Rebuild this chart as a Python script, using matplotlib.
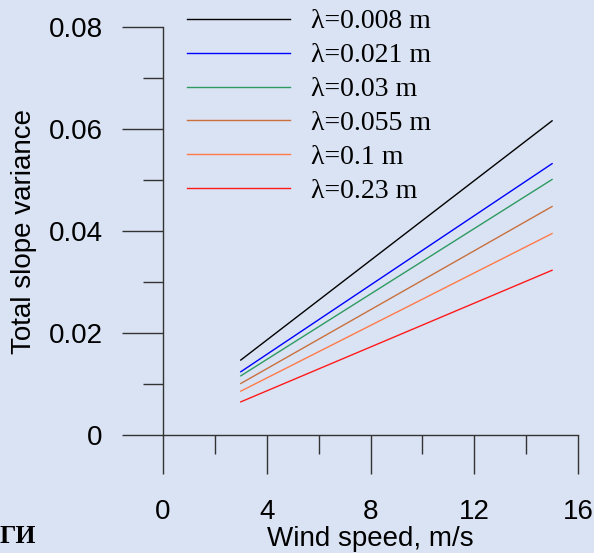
import matplotlib.pyplot as plt
import numpy as np

# wind speed end points and slope variance at those speeds
wind = [3, 15]
labels = ["λ=0.008 m", "λ=0.021 m", "λ=0.03 m", "λ=0.055 m", "λ=0.1 m", "λ=0.23 m"]
var_start = [0.0147, 0.0124, 0.0116, 0.0101, 0.0086, 0.0065]
var_end = [0.0616, 0.0532, 0.0501, 0.0448, 0.0395, 0.0323]
colors = ["#000000", "#0000ff", "#2e9a62", "#c8703e", "#ff7a4a", "#ff1a1a"]

bg = "#dae3f3"
fig = plt.figure(figsize=(5.94, 5.53), dpi=100, facecolor=bg)
ax = fig.add_axes([163 / 594, 1 - 435 / 553, 415 / 594, 408 / 553], facecolor=bg)

for lab, y0, y1, c in zip(labels, var_start, var_end, colors):
    ax.plot(wind, [y0, y1], color=c, lw=1.0, label=lab)

ax.set_xlim(0, 16)
ax.set_ylim(0, 0.08)
for s in ["top", "right"]:
    ax.spines[s].set_visible(False)
for s in ["left", "bottom"]:
    ax.spines[s].set_color("#333333")
    ax.spines[s].set_linewidth(1.0)

ax.set_xticks([0, 4, 8, 12, 16])
ax.set_xticks([2, 6, 10, 14], minor=True)
ax.set_yticks([0, 0.02, 0.04, 0.06, 0.08])
ax.set_yticklabels(["0", "0.02", "0.04", "0.06", "0.08"])
ax.set_yticks([0.01, 0.03, 0.05, 0.07], minor=True)
ax.tick_params(axis="x", which="major", direction="out", length=28, width=1.0, color="#333333", pad=18)
ax.tick_params(axis="x", which="minor", direction="out", length=14, width=1.0, color="#333333")
ax.tick_params(axis="y", which="major", direction="out", length=29.5, width=1.0, color="#333333", pad=14)
ax.tick_params(axis="y", which="minor", direction="out", length=14.5, width=1.0, color="#333333")
for t in ax.get_xticklabels() + ax.get_yticklabels():
    t.set_fontfamily("Liberation Sans")
    t.set_fontsize(20)

ax.set_xlabel("Wind speed, m/s", fontfamily="Liberation Sans", fontsize=20, labelpad=1)
ax.set_ylabel("Total slope variance", fontfamily="Liberation Sans", fontsize=20, labelpad=8)

leg = ax.legend(loc="upper left", bbox_to_anchor=(187 / 594, 1 - 9 / 553), bbox_transform=fig.transFigure,
                frameon=False, prop={"family": "Liberation Serif", "size": 20},
                handlelength=3.7, handletextpad=0.75, labelspacing=0.305, borderpad=0, borderaxespad=0)

fig.text(0, 1 - 543 / 553, "ГИ", fontfamily="Liberation Serif", fontweight="bold", fontsize=18.5,
         ha="left", va="baseline")

fig.savefig("out.png", dpi=100, facecolor=bg)
